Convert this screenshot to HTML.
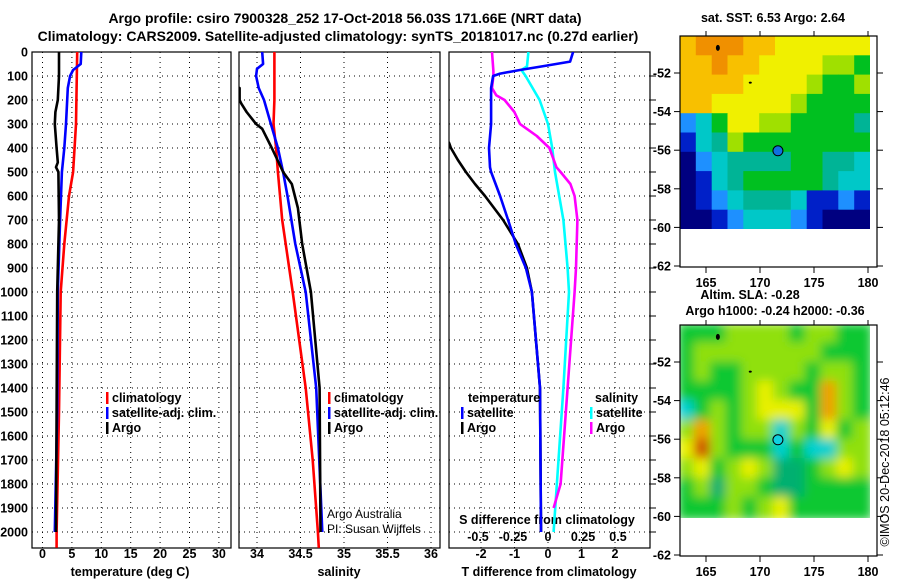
<!DOCTYPE html>
<html><head><meta charset="utf-8"><style>
html,body{margin:0;padding:0;background:#fff;}
svg{display:block;font-family:"Liberation Sans",Arial,sans-serif;}
.b{font-weight:bold;font-size:12.5px;}
</style></head><body>
<svg id="c" width="900" height="580" viewBox="0 0 900 580">
<defs>
<clipPath id="cp1"><rect x="32" y="52" width="199" height="496"/></clipPath>
<clipPath id="cp2"><rect x="239" y="52" width="201" height="496"/></clipPath>
<clipPath id="cp3"><rect x="449" y="52" width="201" height="496"/></clipPath>
<clipPath id="cpm1"><rect x="680" y="36" width="190" height="193"/></clipPath>
<clipPath id="cpm2"><rect x="680" y="325" width="190" height="193"/></clipPath>
<filter id="blur" x="0" y="0" width="1" height="1"><feGaussianBlur stdDeviation="5"/></filter>
</defs>
<text x="345" y="23" text-anchor="middle" style="font-weight:bold;font-size:14px">Argo profile: csiro 7900328_252 17-Oct-2018 56.03S 171.66E (NRT data)</text>
<text x="338" y="41" text-anchor="middle" style="font-weight:bold;font-size:14px">Climatology: CARS2009. Satellite-adjusted climatology: synTS_20181017.nc (0.27d earlier)</text>
<g id="g"></g>
</svg>
<script>
// ---- profile data ----
const tArgoDepth=[0,100,200,250,300,400,460,480,500,700,1000,1500,2000];
const tArgo=[2.8,2.8,2.6,2.2,2.1,2.4,2.6,2.3,2.7,2.8,2.5,2.4,2.3];
const tSatDepth=[0,50,75,100,150,300,400,500,700,1000,1500,1750,2000];
const tSat=[6.6,6.5,5.2,4.7,4.3,4.0,3.7,3.3,3.0,2.6,2.5,2.3,2.1];
const tClimDepth=[0,300,500,600,800,1000,1500,2000,2066];
const tClim=[5.9,5.7,5.2,4.5,3.7,3.1,2.8,2.4,2.4];
const sArgoDepth=[0,140,150,200,215,250,300,320,400,500,550,650,800,1000,1400,2000];
const sArgo=[33.7,33.7,33.8,33.8,33.82,33.88,33.99,34.06,34.17,34.3,34.4,34.47,34.52,34.62,34.72,34.73];
const sSatDepth=[0,50,70,100,150,200,300,400,500,600,800,1000,1400,2000];
const sSat=[34.06,34.07,34.0,33.99,34.02,34.08,34.16,34.24,34.3,34.35,34.44,34.56,34.68,34.75];
const sClimDepth=[0,200,300,400,500,700,900,1000,1400,1700,2000,2066];
const sClim=[34.2,34.2,34.19,34.22,34.24,34.29,34.37,34.41,34.56,34.64,34.7,34.71];
const dTSatDepth=[0,40,60,75,90,100,150,300,400,480,500,600,700,800,900,1000,1400,2000];
const dTSat=[0.75,0.66,-0.18,-0.84,-1.43,-1.64,-1.7,-1.7,-1.76,-1.73,-1.7,-1.43,-1.19,-0.96,-0.66,-0.48,-0.24,-0.21];
const dTArgoDepth=[300,380,400,450,500,550,600,700,800,900,1000,1400,2000];
const dTArgo=[-3.3,-2.95,-2.9,-2.69,-2.45,-2.18,-1.88,-1.34,-0.9,-0.63,-0.48,-0.24,-0.21];
const dSSatDepth=[0,60,75,100,150,200,300,400,500,600,700,900,1000,1400,2000];
const dSSat=[-0.14,-0.15,-0.19,-0.16,-0.11,-0.06,0,0.03,0.05,0.08,0.11,0.14,0.15,0.11,0.04];
const dSArgoDepth=[0,80,100,150,180,200,250,300,350,400,480,500,550,600,700,900,1000,1400,1800,1900];
const dSArgo=[-0.4,-0.39,-0.39,-0.4,-0.37,-0.31,-0.24,-0.2,-0.08,0.01,0.06,0.09,0.16,0.19,0.21,0.2,0.19,0.14,0.09,0.04];
const depthTicks=[0,100,200,300,400,500,600,700,800,900,1000,1100,1200,1300,1400,1500,1600,1700,1800,1900,2000];
const tTicks=[0,5,10,15,20,25,30];
const sTicks=[34,34.5,35,35.5,36];
const dTTicks=[-2,-1,0,1,2];
const dSTicks=[-0.5,-0.25,0,0.25,0.5];
const dSTickLabels=["-0.5","-0.25","0","0.25","0.5"];
// ---- map data (rows top->bottom lat -50.1..-60, cols lon 162.5..180) ----
const sstGrid=[
[8,9,9,9,8,8,7,7,7,7,7,7],
[8,8,9,8,8,7,7,7,7,6,6,5],
[8,8,8,8,7,7,7,7,6,5,5,6],
[8,8,7,7,7,7,7,6,5,5,5,5],
[2,3,5,7,7,6,6,5,5,5,5,4],
[1,3,4,6,5,5,5,5,5,5,5,5],
[0,2,3,4,4,4,4,5,5,4,4,3],
[0,1,3,4,5,5,5,5,5,4,3,3],
[0,1,2,3,4,4,4,3,1,1,2,1],
[0,0,1,2,3,3,3,2,1,0,0,0]];
const slaGrid=[
[5,5,5,6,6,6,6,5,6,6,5,5],
[5,6,6,6,6,6,6,6,6,5,5,5],
[5,6,5,5,6,6,6,6,5,6,6,5],
[5,5,5,5,6,7,6,5,5,8,6,5],
[3,5,6,5,6,7,7,7,5,8,6,5],
[6,8,6,5,6,6,3,6,5,7,5,6],
[7,9,6,5,5,5,3,5,3,3,6,6],
[6,7,5,6,7,6,4,4,5,6,7,6],
[5,6,4,6,6,5,4,4,5,5,5,5],
[5,5,5,6,5,6,7,5,5,5,5,5]];
const latTicks=[-52,-54,-56,-58,-60,-62];
const lonTicks=[165,170,175,180];
const argoLon=171.66, argoLat=-56.03;

const NS="http://www.w3.org/2000/svg";
const G=document.getElementById('g');
function mk(tag,attrs,parent){const e=document.createElementNS(NS,tag);for(const k in attrs)e.setAttribute(k,attrs[k]);(parent||G).appendChild(e);return e;}
const yD=d=>52+d*0.24;
const xT=v=>42.5+v*5.88;
const xS=v=>257+(v-34)*87;
const xDT=v=>548+v*33.5;
const xDS=v=>548+v*140;

const panels=[{x:32,w:199,clip:'cp1',name:'temperature'},{x:239,w:201,clip:'cp2',name:'salinity'},{x:449,w:201,clip:'cp3',name:'t-difference'}];
panels.forEach((p,i)=>{
  const grp=mk('g',{});
  
  
  depthTicks.forEach(d=>{ if(d>0){const l=mk('line',{x1:p.x,x2:p.x+p.w,y1:yD(d),y2:yD(d),stroke:'#000','stroke-width':1,'stroke-dasharray':'1,4'},grp);
    }});
  const r=mk('rect',{x:p.x,y:52,width:p.w,height:496,fill:'none',stroke:'#000','stroke-width':1.2},grp);
  
});
function vgrid(vals,fx,px){vals.forEach(v=>{const l=mk('line',{x1:fx(v),x2:fx(v),y1:52,y2:548,stroke:'#000','stroke-width':1,'stroke-dasharray':'1,4'});
  });}
vgrid(tTicks,xT);vgrid([34,34.5,35,35.5,36],xS);vgrid(dTTicks,xDT);
depthTicks.forEach(d=>{const t=mk('text',{x:28,y:yD(d)+4.5,'text-anchor':'end',class:'b'});t.textContent=d;
  });
function xlabels(vals,fx,labels,y,name){vals.forEach((v,i)=>{const t=mk('text',{x:fx(v),y:y,'text-anchor':'middle',class:'b'});t.textContent=labels?labels[i]:v;
  });}
xlabels(tTicks,xT,null,558,'temperature-tick-label');
xlabels(sTicks,xS,null,558,'salinity-tick-label');
xlabels(dTTicks,xDT,null,558,'t-diff-tick-label');
xlabels(dSTicks,xDS,dSTickLabels,541,'s-diff-tick-label');
function ttl(x,y,s,name,anchor,extra){const t=mk('text',Object.assign({x:x,y:y,'text-anchor':anchor||'middle',class:'b'},extra||{}));t.textContent=s;
  return t;}
ttl(130,576,'temperature (deg C)','x-axis-title-temperature');
ttl(339,576,'salinity','x-axis-title-salinity');
ttl(549,576,'T difference from climatology','x-axis-title-t-diff');
ttl(547,524,'S difference from climatology','x-axis-title-s-diff');
function line(depths,vals,fx,color,clip,name){
  const pts=depths.map((d,i)=>fx(vals[i]).toFixed(1)+','+yD(d).toFixed(1)).join(' ');
  const pl=mk('polyline',{points:pts,fill:'none',stroke:color,'stroke-width':2.6,'clip-path':'url(#'+clip+')','stroke-linejoin':'round'});
  }
line(tClimDepth,tClim,xT,'#ff0000','cp1','temperature-climatology-line');
line(tSatDepth,tSat,xT,'#0000ff','cp1','temperature-satellite-line');
line(tArgoDepth,tArgo,xT,'#000','cp1','temperature-argo-line');
line(sClimDepth,sClim,xS,'#ff0000','cp2','salinity-climatology-line');
line(sSatDepth,sSat,xS,'#0000ff','cp2','salinity-satellite-line');
line(sArgoDepth,sArgo,xS,'#000','cp2','salinity-argo-line');
line(dSSatDepth,dSSat,xDS,'#00ffff','cp3','s-diff-satellite-line');
line(dSArgoDepth,dSArgo,xDS,'#ff00ff','cp3','s-diff-argo-line');
line(dTArgoDepth,dTArgo,xDT,'#000','cp3','t-diff-argo-line');
line(dTSatDepth,dTSat,xDT,'#0000ff','cp3','t-diff-satellite-line');
function leg(x,y,color,label,name){const r=mk('rect',{x:x,y:y-10,width:2.5,height:12,fill:color});
  
  const t=mk('text',{x:x+6,y:y,class:'b'});t.textContent=label;}
leg(106,402,'#ff0000','climatology','legend-climatology');
leg(106,417,'#0000ff','satellite-adj. clim.','legend-satellite');
leg(106,432,'#000','Argo','legend-argo');
leg(328,402,'#ff0000','climatology','legend-climatology-2');
leg(328,417,'#0000ff','satellite-adj. clim.','legend-satellite-2');
leg(328,432,'#000','Argo','legend-argo-2');
ttl(468,402,'temperature','legend-temperature-heading','start');
leg(461,417,'#0000ff','satellite','legend-t-satellite');
leg(461,432,'#000','Argo','legend-t-argo');
ttl(595,402,'salinity','legend-salinity-heading','start');
leg(590,417,'#00ffff','satellite','legend-s-satellite');
leg(590,432,'#ff00ff','Argo','legend-s-argo');
let t1=mk('text',{x:327,y:518,style:'font-size:12px'});t1.textContent='Argo Australia';
let t2=mk('text',{x:327,y:533,style:'font-size:12px'});t2.textContent='PI: Susan Wijffels';
depthTicks.forEach(d=>{if(d>0)mk('line',{x1:650,x2:656,y1:yD(d),y2:yD(d),stroke:'#000'});});

const sstCols=['#000080','#0020c8','#1e90ff','#00c8c8','#00b496','#00c020','#a0e000','#f0f000','#f8c000','#f09000'];
const slaCols=['#0030c0','#0070e0','#20b0ff','#00d0d0','#00b070','#10c830','#90e010','#e8f000','#f0a000','#d05000'];
function mapPanel(top,grid,cols,clip,name,blur){
  const lon=v=>706+(v-165)*10.8;
  const lat=v=>73+(-52-v)*19.3+(top-36);
  const grp=mk('g',{'clip-path':'url(#'+clip+')'});
  
  const inner=mk('g',blur?{filter:'url(#blur)'}:{},grp);
  const rows=grid.length,ncol=grid[0].length;
  const x0=680,x1=870,y0=top,y1=top+193;
  const cw=(x1-x0)/ncol,ch=(y1-y0)/rows;
  grid.forEach((row,r)=>row.forEach((v,c)=>{
    const e=mk('rect',{x:(x0+c*cw-(blur?2:0)).toFixed(1),y:(y0+r*ch-(blur?2:0)).toFixed(1),width:(cw+(blur?4:0.6)).toFixed(1),height:(ch+(blur?4:0.6)).toFixed(1),fill:cols[v]},inner);
    }));
  mk('ellipse',{cx:lon(166.1),cy:lat(-50.7),rx:2,ry:3,fill:'#000'});
  mk('ellipse',{cx:lon(169.1),cy:lat(-52.5),rx:1.5,ry:1,fill:'#000'});
  const fr=mk('rect',{x:680,y:top,width:197,height:231,fill:'none',stroke:'#000','stroke-width':1.2});
  
  latTicks.forEach(v=>{mk('line',{x1:674,x2:680,y1:lat(v),y2:lat(v),stroke:'#000'});mk('line',{x1:877,x2:883,y1:lat(v),y2:lat(v),stroke:'#000'});
    const t=mk('text',{x:671,y:lat(v)+4.5,'text-anchor':'end',class:'b'});t.textContent=v;});
  lonTicks.forEach(v=>{mk('line',{x1:lon(v),x2:lon(v),y1:top+231,y2:top+237,stroke:'#000'});mk('line',{x1:lon(v),x2:lon(v),y1:top,y2:top-5,stroke:'#000'});
    const t=mk('text',{x:lon(v),y:top+251,'text-anchor':'middle',class:'b'});t.textContent=v;});
  const m=mk('circle',{cx:lon(argoLon),cy:lat(argoLat),r:5,fill:blur?'#10d0e0':'#1070e0',stroke:'#000','stroke-width':1});
  
}
mapPanel(36,sstGrid,sstCols,'cpm1','sst-map',false);
mapPanel(325,slaGrid,slaCols,'cpm2','sla-map',true);
ttl(773,22,'sat. SST: 6.53 Argo: 2.64','sst-map-title');
ttl(750,299,'Altim. SLA: -0.28','sla-map-title');
ttl(775,315,'Argo h1000: -0.24 h2000: -0.36','sla-map-subtitle');
const cr=mk('text',{x:0,y:0,'text-anchor':'middle',style:'font-size:12.5px',transform:'translate(889,462) rotate(-90)'});
cr.textContent='©IMOS 20-Dec-2018 05:12:46';
</script>
</body></html>
